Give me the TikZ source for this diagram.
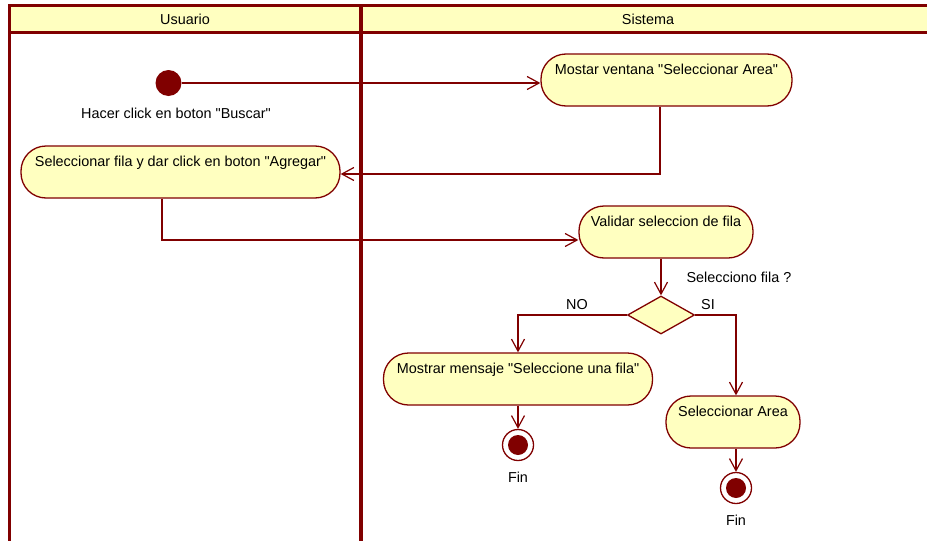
\documentclass[tikz,border=0pt]{standalone}
\usepackage{fontspec}
\setmainfont{Liberation Sans}[Ligatures=TeXOff]
\usetikzlibrary{arrows.meta,shapes.geometric}
\definecolor{lane}{HTML}{800000}
\definecolor{fillc}{HTML}{FFFFC0}
\begin{document}
\begin{tikzpicture}[x=1pt,y=-1pt,
  font=\fontsize{14.4}{16}\selectfont,
  act/.style={draw=lane, line width=1.3pt, fill=fillc, rounded corners=25pt,
    inner xsep=0pt, inner ysep=0pt, text height=20pt, text depth=32pt,
    minimum height=52pt},
  arr/.style={draw=lane, line width=1.2pt,
    -{Straight Barb[length=12pt,width=13pt,line width=1.2pt]}},
  lanehead/.style={inner sep=0pt},
  lbl/.style={inner sep=0pt},
  startnode/.style={circle, fill=lane, minimum size=26pt, inner sep=0pt},
  endnode/.style={circle, draw=lane, line width=1.3pt, fill=white, minimum size=31pt, inner sep=0pt,
    path picture={\fill[lane] (path picture bounding box.center) circle (10pt);}},
  decision/.style={diamond, draw=lane, line width=1.3pt, fill=fillc, inner sep=0pt,
    minimum width=67pt, minimum height=38pt}
]
\useasboundingbox (0,0) rectangle (927,541);
\clip (0,0) rectangle (927,541);
% swimlanes
\fill[fillc] (9,5) rectangle (945,32);
\draw[lane, line width=3pt] (9.5,550) -- (9.5,5.5) -- (945,5.5);
\draw[lane, line width=3pt] (9.5,32.5) -- (945,32.5);
\draw[lane, line width=4pt] (360.5,5) -- (360.5,550);
\node[lanehead] (hu) at (185,19.5) {Usuario};
\node[lanehead] (hs) at (648,19.5) {Sistema};

% nodes
\node[startnode] (init) at (168.5,83) {};
\node[lbl] (initlbl) at (176,113) {Hacer click en boton "Buscar"};
\node[act, minimum width=251pt] (mostar) at (666.5,80) {Mostar ventana "Seleccionar Area"};
\node[act, minimum width=319pt] (selfila) at (180.5,172) {Seleccionar fila y dar click en boton "Agregar"};
\node[act, minimum width=174pt] (validar) at (666,232) {Validar seleccion de fila};
\node[decision] (dec) at (661,315) {};
\node[lbl] (declbl) at (739,277) {Selecciono fila ?};
\node[lbl] (nolbl) at (577,305) {NO};
\node[lbl] (silbl) at (708,305) {SI};
\node[act, minimum width=269pt] (mensaje) at (518,379) {Mostrar mensaje "Seleccione una fila"};
\node[act, minimum width=134pt] (area) at (733,422) {Seleccionar Area};
\node[endnode] (fin1) at (518,445) {};
\node[lbl] (fin1lbl) at (518,477) {Fin};
\node[endnode] (fin2) at (736,488) {};
\node[lbl] (fin2lbl) at (736,520) {Fin};

% connectors
\draw[arr] (init) -- (init -| mostar.west);
\draw[arr] ([xshift=-6.5pt]mostar.south) |- ([yshift=-2pt]selfila.east);
\draw[arr] ([xshift=-18.5pt]selfila.south) |- ([yshift=-8pt]validar.west);
\draw[arr] (validar.south -| dec.north) -- (dec.north);
\draw[arr] (dec.west) -| (mensaje.north);
\draw[arr] (dec.east) -| ([xshift=3pt]area.north);
\draw[arr] (mensaje.south) -- (fin1.north);
\draw[arr] ([xshift=3pt]area.south) -- (fin2.north);
\end{tikzpicture}
\end{document}
